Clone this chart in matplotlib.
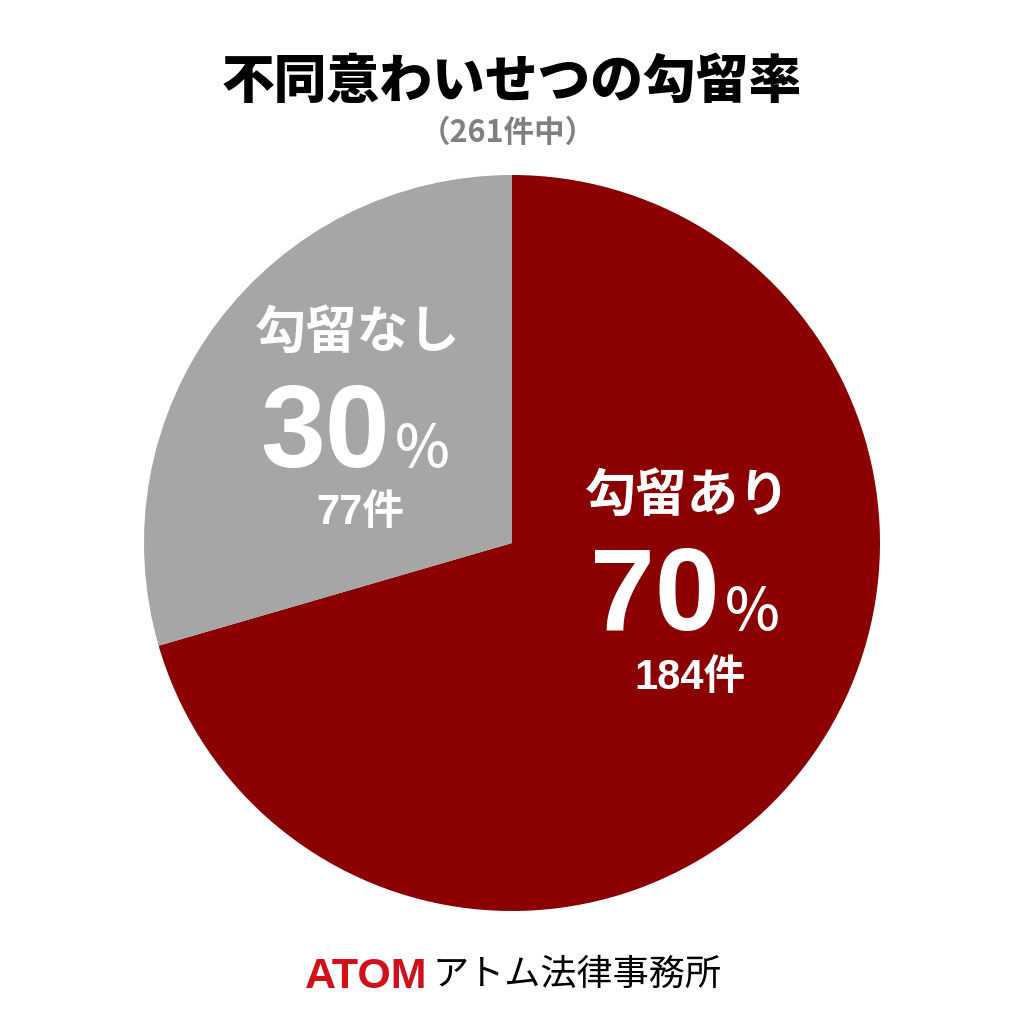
import matplotlib
matplotlib.use("Agg")
import matplotlib.pyplot as plt

# データ
labels = ["勾留あり", "勾留なし"]
counts = [184, 77]
percents = [70, 30]
colors = ["#8B0000", "#A6A6A6"]
title = "不同意わいせつの勾留率"
subtitle = "（261件中）"

plt.rcParams['font.family'] = ['Noto Sans CJK JP', 'DejaVu Sans']
NUM_FONT = ['Liberation Sans', 'Noto Sans CJK JP']

W = 1024
fig = plt.figure(figsize=(10.24, 10.24), dpi=100, facecolor="white")
ax = fig.add_axes([0, 0, 1, 1])

# 円グラフ（上から時計回り）
ax.pie(counts, colors=colors, startangle=90, counterclock=False,
       center=(512, W - 543), radius=368, frame=True,
       wedgeprops=dict(linewidth=0))
ax.set_xlim(0, W)
ax.set_ylim(0, W)
ax.set_aspect("equal")
ax.axis("off")


def px(x, y):
    return x, W - y


# タイトル
ax.text(*px(512, 82), title, ha="center", va="center",
        fontsize=38, fontweight="heavy", color="black")
ax.text(*px(508, 133), subtitle, ha="center", va="center",
        fontsize=22, fontweight="bold", color="#808080")

# ラベル位置（ピクセル）
pos = {
    0: dict(name=(688, 495), split=720, base=630, cnt=(690, 678)),
    1: dict(name=(358, 332), split=390, base=467, cnt=(360, 513)),
}
for i in range(len(labels)):
    p = pos[i]
    ax.text(*px(*p["name"]), labels[i], ha="center", va="center",
            fontsize=37, fontweight="bold", color="white")
    ax.text(*px(p["split"], p["base"]), str(percents[i]), ha="right",
            va="baseline", fontsize=84, fontweight="bold", color="white",
            family=NUM_FONT)
    ax.text(*px(p["split"] + 5, p["base"]), "%", ha="left",
            va="baseline", fontsize=42, fontweight="medium", color="white")
    ax.text(*px(*p["cnt"]), f"{counts[i]}件", ha="center", va="center",
            fontsize=30, fontweight="bold", color="white", family=NUM_FONT)

# ロゴ
ax.text(*px(427, 988), "ATOM", ha="right", va="baseline",
        fontsize=31, fontweight="heavy", color="#D0101A",
        family=["Liberation Sans", "DejaVu Sans"])
ax.text(*px(432, 975), "アトム法律事務所", ha="left", va="center",
        fontsize=26, color="black")

fig.savefig("out.png", dpi=100, facecolor="white")
